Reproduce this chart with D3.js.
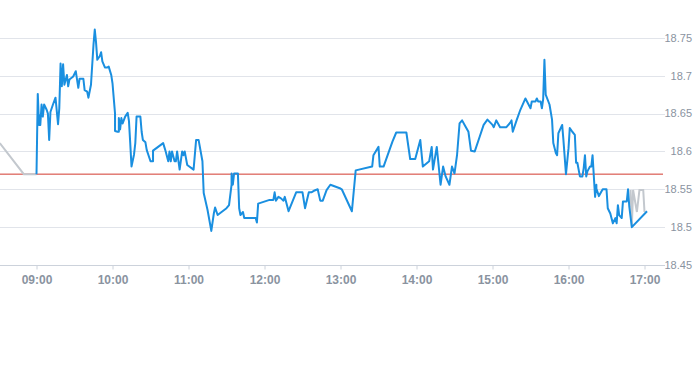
<!DOCTYPE html>
<html>
<head>
<meta charset="utf-8">
<script src="https://cdn.jsdelivr.net/npm/d3@7"></script>
<style>
body { margin: 0; background: #fff; }
svg { display: block; font-family: "Liberation Sans", Arial, sans-serif; }
</style>
</head>
<body>
<script>
var width = 693;
var height = 365;

// previous close reference
var prevClose = 18.57;

// pre-open tail (grey)
var preTimes = ["08:31", "08:50", "09:00"];
var preValues = [18.611, 18.57, 18.57];

// session prices (blue)
var times = ["09:00","09:01","09:02","09:02","09:03","09:04","09:05","09:06","09:08","09:09",
  "09:10","09:11","09:13","09:15","09:17","09:18","09:19","09:20","09:21","09:22",
  "09:24","09:25","09:26","09:29","09:31","09:33","09:34","09:37","09:38","09:40",
  "09:41","09:43","09:45","09:46","09:47","09:48","09:50","09:51","09:52","09:54",
  "09:56","09:57","09:59","10:00","10:02","10:02","10:04","10:05","10:05","10:06",
  "10:07","10:08","10:10","10:12","10:13","10:14","10:15","10:17","10:18","10:19",
  "10:22","10:23","10:24","10:26","10:27","10:30","10:32","10:32","10:40","10:42",
  "10:44","10:45","10:46","10:47","10:49","10:50","10:51","10:53","10:55","10:56",
  "10:57","10:59","11:04","11:06","11:08","11:11","11:12","11:15","11:18","11:20",
  "11:21","11:23","11:30","11:32","11:34","11:34","11:35","11:36","11:39","11:40",
  "11:41","11:43","11:44","11:50","11:53","11:54","11:55","12:04","12:07","12:08",
  "12:09","12:11","12:13","12:15","12:16","12:19","12:25","12:30","12:32","12:35",
  "12:37","12:39","12:42","12:44","12:46","12:49","12:52","13:00","13:01","13:09",
  "13:12","13:25","13:26","13:30","13:31","13:34","13:41","13:44","13:52","13:55",
  "13:59","14:03","14:05","14:10","14:12","14:13","14:16","14:19","14:21","14:23",
  "14:26","14:28","14:30","14:32","14:34","14:36","14:38","14:41","14:43","14:46",
  "14:50","14:53","14:56","15:00","15:01","15:03","15:05","15:06","15:11","15:14",
  "15:15","15:16","15:19","15:22","15:26","15:30","15:31","15:34","15:35","15:36",
  "15:38","15:39","15:40","15:41","15:42","15:45","15:47","15:48","15:50","15:51",
  "15:52","15:55","15:56","15:58","16:00","16:01","16:03","16:05","16:06","16:07",
  "16:09","16:11","16:12","16:13","16:14","16:15","16:17","16:18","16:19","16:20",
  "16:21","16:22","16:22","16:24","16:26","16:27","16:30","16:31","16:33","16:35",
  "16:37","16:38","16:39","16:40","16:41","16:42","16:43","16:45","16:46","16:47",
  "16:48","16:50","17:02"];
var values = [18.570,18.676,18.635,18.648,18.635,18.662,18.646,18.662,18.655,18.650,
  18.615,18.652,18.662,18.671,18.636,18.657,18.716,18.686,18.715,18.688,
  18.701,18.686,18.695,18.699,18.706,18.684,18.696,18.696,18.681,18.679,
  18.671,18.688,18.741,18.761,18.744,18.721,18.726,18.731,18.719,18.711,
  18.711,18.712,18.701,18.690,18.650,18.627,18.626,18.626,18.644,18.629,
  18.644,18.637,18.646,18.651,18.640,18.611,18.580,18.596,18.611,18.646,
  18.646,18.626,18.615,18.612,18.602,18.587,18.587,18.601,18.611,18.600,
  18.587,18.600,18.587,18.600,18.587,18.587,18.600,18.576,18.600,18.595,
  18.600,18.582,18.576,18.615,18.615,18.587,18.545,18.523,18.495,18.518,
  18.526,18.516,18.525,18.529,18.556,18.571,18.556,18.571,18.571,18.525,
  18.516,18.520,18.512,18.512,18.512,18.506,18.531,18.536,18.536,18.546,
  18.535,18.540,18.538,18.535,18.540,18.521,18.546,18.546,18.525,18.546,
  18.546,18.548,18.550,18.535,18.535,18.549,18.556,18.551,18.550,18.521,
  18.575,18.580,18.595,18.606,18.580,18.580,18.613,18.625,18.625,18.590,
  18.590,18.615,18.580,18.587,18.606,18.576,18.606,18.556,18.580,18.567,
  18.556,18.580,18.571,18.595,18.637,18.641,18.635,18.626,18.601,18.600,
  18.620,18.635,18.642,18.635,18.632,18.641,18.635,18.632,18.632,18.638,
  18.641,18.626,18.641,18.655,18.670,18.657,18.666,18.666,18.670,18.666,
  18.666,18.657,18.669,18.721,18.675,18.662,18.642,18.611,18.598,18.595,
  18.624,18.635,18.615,18.570,18.604,18.631,18.626,18.622,18.585,18.585,
  18.567,18.567,18.578,18.595,18.567,18.574,18.580,18.580,18.595,18.567,
  18.540,18.556,18.551,18.541,18.547,18.550,18.550,18.525,18.518,18.505,
  18.512,18.505,18.529,18.516,18.514,18.512,18.534,18.534,18.534,18.550,
  18.527,18.500,18.521];

// after-close trades (grey)
var postTimes = ["16:49", "16:50", "16:51", "16:54", "16:56", "16:59", "17:00"];
var postValues = [18.549, 18.501, 18.549, 18.520, 18.549, 18.549, 18.520];

var xTicks = ["09:00","10:00","11:00","12:00","13:00","14:00","15:00","16:00","17:00"];
var yTicks = [18.45, 18.5, 18.55, 18.6, 18.65, 18.7, 18.75];

var parseTime = d3.timeParse("%H:%M");
var plotRight = 663;
var plotBottom = 265;

var x = d3.scaleTime()
    .domain([parseTime("09:00"), parseTime("17:00")])
    .range([36.5, 644.5]);
var y = d3.scaleLinear()
    .domain([18.45, 18.80])
    .range([plotBottom, 0]);

var svg = d3.select("body")
            .append("svg")
            .attr("width", width)
            .attr("height", height);

svg.append("defs").append("clipPath")
    .attr("id", "plot")
    .append("rect")
    .attr("x", 0).attr("y", 0)
    .attr("width", plotRight).attr("height", plotBottom);

// horizontal grid + right labels
var yAxis = svg.append("g");
yAxis.selectAll("line.grid")
    .data(yTicks.slice(1))
    .enter()
    .append("line")
    .attr("class", "grid")
    .attr("x1", 0)
    .attr("x2", plotRight + 2)
    .attr("y1", function(d) { return Math.round(y(d)) + 0.5; })
    .attr("y2", function(d) { return Math.round(y(d)) + 0.5; })
    .style("stroke", "#e1e4ea")
    .style("stroke-width", 1);
yAxis.selectAll("text")
    .data(yTicks)
    .enter()
    .append("text")
    .attr("x", 692)
    .attr("y", function(d) { return y(d); })
    .attr("dy", "0.35em")
    .attr("text-anchor", "end")
    .style("font-size", "11px")
    .style("fill", "#8a939f")
    .text(function(d) { return +d.toFixed(2); });

// bottom axis
var xAxis = d3.axisBottom(x)
    .tickValues(xTicks.map(parseTime))
    .tickFormat(d3.timeFormat("%H:%M"))
    .tickSize(4)
    .tickPadding(6);
var gx = svg.append("g")
    .attr("transform", "translate(0," + (plotBottom + 0.5) + ")")
    .call(xAxis);
gx.select(".domain").remove();
gx.insert("line", ":first-child")
    .attr("x1", 0).attr("x2", plotRight + 2)
    .style("stroke", "#ccd2db");
gx.selectAll(".tick line").style("stroke", "#ccd2db");
gx.selectAll(".tick text")
    .style("font-size", "12px")
    .style("font-weight", "bold")
    .style("font-family", "'Liberation Sans', Arial, sans-serif")
    .style("fill", "#8a939f");

// previous close line
svg.append("line")
    .attr("x1", 0).attr("x2", plotRight)
    .attr("y1", y(prevClose)).attr("y2", y(prevClose))
    .style("stroke", "#d33a2f")
    .style("stroke-width", 1);

var line = d3.line()
    .x(function(d) { return x(parseTime(d[0])); })
    .y(function(d) { return y(d[1]); });

var plot = svg.append("g").attr("clip-path", "url(#plot)");

plot.append("path")
    .datum(d3.zip(preTimes, preValues))
    .attr("d", line)
    .style("fill", "none")
    .style("stroke", "#c3c8ce")
    .style("stroke-width", 2);

plot.append("path")
    .datum(d3.zip(postTimes, postValues))
    .attr("d", line)
    .style("fill", "none")
    .style("stroke", "#c3c8ce")
    .style("stroke-width", 2);

plot.append("path")
    .datum(d3.zip(times, values))
    .attr("d", line)
    .style("fill", "none")
    .style("stroke", "#1a8fe0")
    .style("stroke-width", 2)
    .style("stroke-linejoin", "round");
</script>
</body>
</html>
